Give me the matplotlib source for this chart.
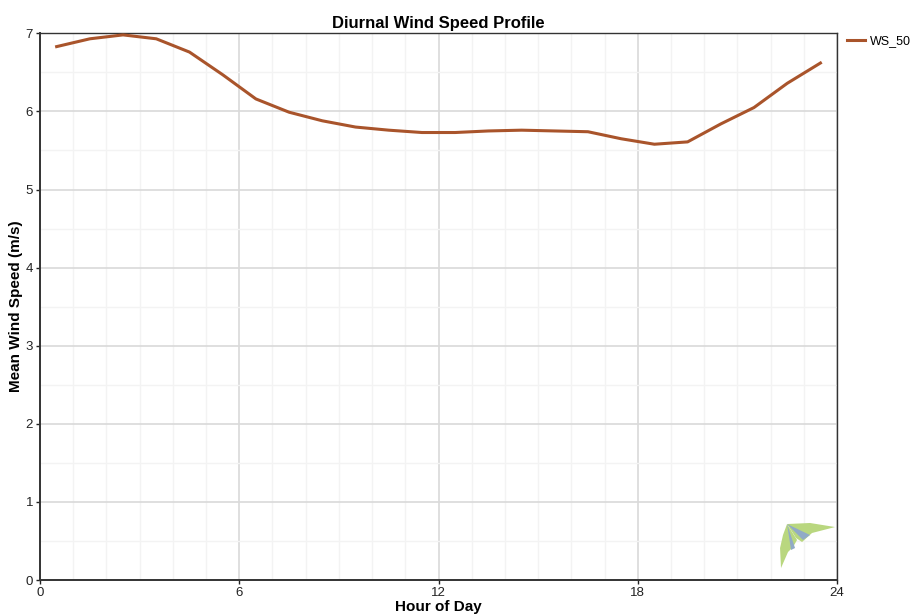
import matplotlib
matplotlib.use("Agg")
import matplotlib.pyplot as plt
from matplotlib.patches import Polygon

plt.rcParams['font.family'] = ['Liberation Sans', 'DejaVu Sans']

# hourly means, plotted at the middle of each hour
hours = [h + 0.5 for h in range(24)]
ws_50 = [6.83, 6.93, 6.98, 6.93, 6.76, 6.47, 6.16, 5.99, 5.88, 5.80, 5.76, 5.73,
         5.73, 5.75, 5.76, 5.75, 5.74, 5.65, 5.58, 5.61, 5.84, 6.05, 6.36, 6.62]
series_name = 'WS_50'
line_color = '#a9542b'

fig = plt.figure(figsize=(9.12, 6.15), dpi=100)
ax = fig.add_axes([0.0439, 0.0569, 0.8739, 0.8889])

ax.plot(hours, ws_50, color=line_color, lw=2.2, label=series_name, zorder=3)

ax.set_xlim(0, 24)
ax.set_ylim(0, 7)
ax.set_xticks(range(0, 25, 6))
ax.set_xticks(range(0, 25), minor=True)
ax.set_yticks(range(0, 8))
ax.set_yticks([i * 0.5 for i in range(15)], minor=True)

ax.grid(which='major', color='#d9d9d9', lw=1.2)
ax.grid(which='minor', color='#f3f3f3', lw=1.0)
ax.set_axisbelow(True)

ax.tick_params(which='major', length=3, width=1, labelsize=9.5, colors='#222222', pad=2)
ax.tick_params(which='minor', length=0)
for side in ['left', 'bottom']:
    ax.spines[side].set_linewidth(1.4)
    ax.spines[side].set_color('#333333')
for side in ['top', 'right']:
    ax.spines[side].set_linewidth(1.0)
    ax.spines[side].set_color('#333333')

ax.set_title('Diurnal Wind Speed Profile', fontsize=12, fontweight='bold', pad=4)
ax.set_xlabel('Hour of Day', fontsize=11, fontweight='bold', labelpad=1)
ax.set_ylabel('Mean Wind Speed (m/s)', fontsize=11, fontweight='bold', labelpad=2)

ax.legend(loc='upper left', bbox_to_anchor=(1.001, 1.012), frameon=False,
          fontsize=9, handlelength=1.5, handletextpad=0.35, borderaxespad=0.3)

# small kite logo in the lower right corner
green = '#b9d77f'
blue = '#91aac6'
logo = [
    ([(0.9373, 0.1024), (0.9661, 0.1043), (0.9975, 0.0969), (0.9686, 0.0860),
      (0.9561, 0.0695), (0.9486, 0.0768)], green),
    ([(0.9373, 0.1024), (0.9498, 0.0732), (0.9448, 0.0604), (0.9385, 0.0512),
      (0.9297, 0.0219), (0.9285, 0.0585), (0.9322, 0.0823)], green),
    ([(0.9373, 0.1024), (0.9661, 0.0823), (0.9573, 0.0732)], blue),
    ([(0.9373, 0.1024), (0.9473, 0.0585), (0.9423, 0.0549)], blue),
]
for pts, col in logo:
    ax.add_patch(Polygon(pts, closed=True, transform=ax.transAxes,
                         facecolor=col, edgecolor='none', zorder=2))

fig.savefig('out.png', dpi=100)
